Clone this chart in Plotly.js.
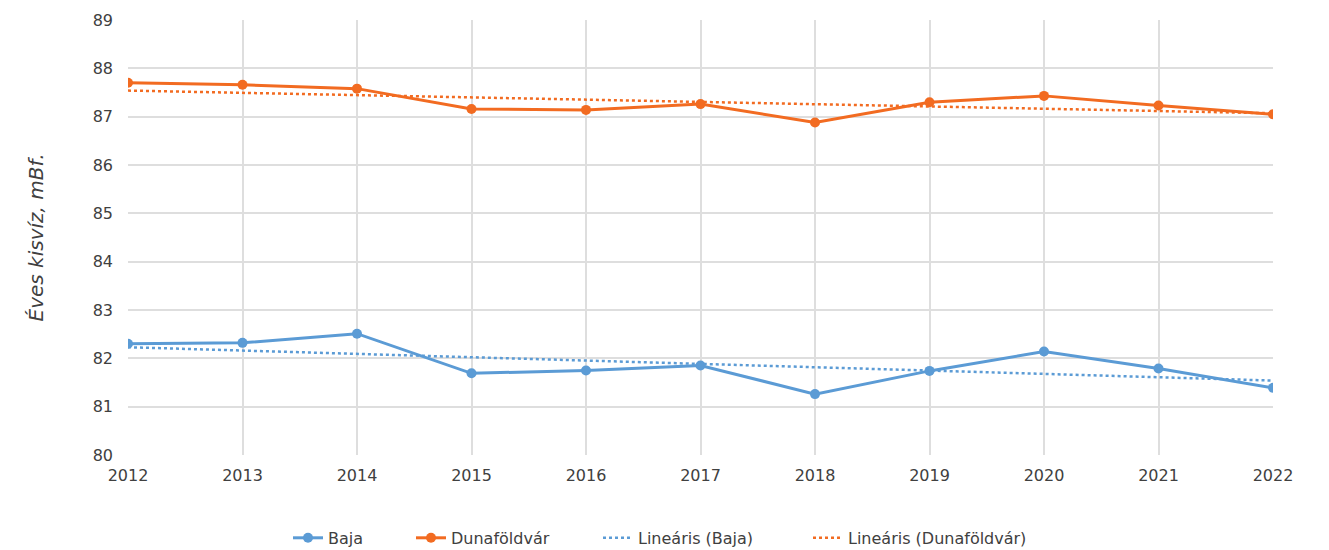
<!DOCTYPE html>
<html>
<head>
<meta charset="utf-8">
<script src="https://cdn.plot.ly/plotly-3.0.1.min.js"></script>
<style>html,body{margin:0;padding:0;background:#fff;}#chart{width:1329px;height:550px;}</style>
</head>
<body>
<div id="chart"></div>
<script>
const years = [2012, 2013, 2014, 2015, 2016, 2017, 2018, 2019, 2020, 2021, 2022];
const baja = [82.30, 82.32, 82.51, 81.69, 81.75, 81.85, 81.26, 81.74, 82.14, 81.79, 81.39];
const dunafoldvar = [87.70, 87.66, 87.58, 87.16, 87.14, 87.26, 86.88, 87.30, 87.43, 87.23, 87.05];
const trendYears = [2012, 2022];
const bajaTrend = [82.23, 81.54];
const dunaTrend = [87.54, 87.07];
const seriesNames = ['Baja', 'Dunaföldvár', 'Lineáris (Baja)', 'Lineáris (Dunaföldvár)'];
const yTitle = 'Éves kisvíz, mBf.';

const blue = '#5B9BD5';
const orange = '#F26B21';
const txt = '#404040';
const grid = '#DEDEDE';

const traces = [
  {x: years, y: baja, name: seriesNames[0], mode: 'lines+markers', type: 'scatter', legend: 'legend',
   line: {color: blue, width: 3}, marker: {color: blue, size: 10}},
  {x: years, y: dunafoldvar, name: seriesNames[1], mode: 'lines+markers', type: 'scatter', legend: 'legend2',
   line: {color: orange, width: 3}, marker: {color: orange, size: 10}},
  {x: trendYears, y: bajaTrend, name: seriesNames[2], mode: 'lines', type: 'scatter', legend: 'legend3',
   line: {color: blue, width: 2.5, dash: 'dot'}},
  {x: trendYears, y: dunaTrend, name: seriesNames[3], mode: 'lines', type: 'scatter', legend: 'legend4',
   line: {color: orange, width: 2.5, dash: 'dot'}}
];

function leg(px) {
  return {orientation: 'h', xref: 'container', yref: 'container',
          x: px / 1329, xanchor: 'left', y: 0.022, yanchor: 'middle',
          font: {size: 16, color: txt, family: 'DejaVu Sans, sans-serif'}};
}

const layout = {
  width: 1329, height: 550,
  margin: {l: 128, r: 56, t: 20, b: 95},
  paper_bgcolor: '#fff', plot_bgcolor: '#fff',
  font: {family: 'DejaVu Sans, Verdana, sans-serif', color: txt, size: 16},
  showlegend: true,
  legend: leg(288), legend2: leg(411), legend3: leg(598), legend4: leg(808),
  xaxis: {
    range: [2012, 2022], tickmode: 'array', tickvals: years, ticktext: years.map(String),
    showgrid: true, gridcolor: grid, gridwidth: 2, zeroline: false, automargin: false,
    showline: false, ticks: '', tickfont: {size: 16, color: txt}, ticklabelstandoff: 9
  },
  yaxis: {
    range: [80, 89], dtick: 1, tick0: 80, automargin: false,
    showgrid: true, gridcolor: grid, gridwidth: 2, zeroline: false,
    showline: false, ticks: '', tickfont: {size: 16, color: txt}, ticklabelstandoff: 14,
    title: {text: '<i>' + yTitle + '</i>', font: {size: 20, color: txt}, standoff: 43}
  }
};

Plotly.newPlot('chart', traces, layout, {displayModeBar: false, staticPlot: true});
</script>
</body>
</html>
